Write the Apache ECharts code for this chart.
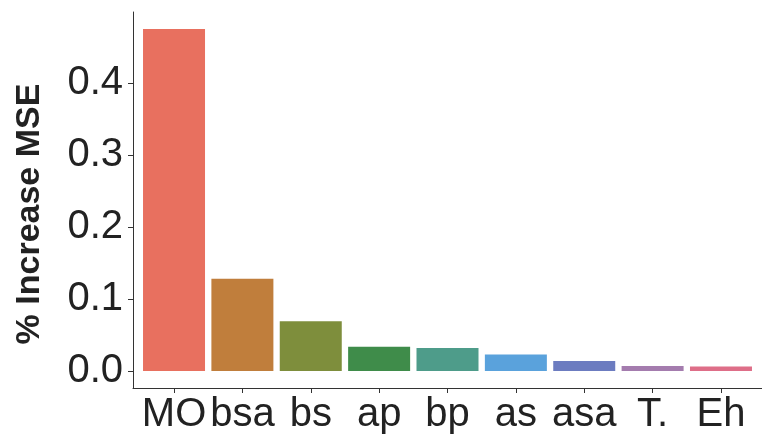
<!DOCTYPE html>
<html>
<head>
<meta charset="utf-8">
<script src="https://cdn.jsdelivr.net/npm/echarts@6/dist/echarts.min.js"></script>
<style>
  html, body { margin: 0; padding: 0; background: #fff; }
  #chart { width: 762px; height: 435px; }
</style>
</head>
<body>
<div id="chart"></div>
<script>
const categories = ["MO", "bsa", "bs", "ap", "bp", "as", "asa", "T.", "Eh"];
const values = [0.475, 0.128, 0.069, 0.0335, 0.0317, 0.0229, 0.0138, 0.0069, 0.006];
const barColors = ["#E8705F", "#C07E3C", "#7E8E3C", "#3F8C4A", "#4E9C8A", "#5AA2DC", "#6C7CC0", "#A47CAE", "#DE6E88"];
const yTicks = [0, 0.1, 0.2, 0.3, 0.4];
const xTicks = categories.map((c, i) => i + 1);

const chart = echarts.init(document.getElementById("chart"));
chart.setOption({
  animation: false,
  grid: { left: 133, right: -14, top: 12, bottom: 44, containLabel: false },
  xAxis: {
    type: "value",
    min: 0.4,
    max: 9.6,
    axisLine: { show: true, onZero: false, lineStyle: { color: "#333", width: 1 } },
    axisTick: { show: true, length: 5, customValues: xTicks, lineStyle: { color: "#333" } },
    axisLabel: {
      customValues: xTicks,
      formatter: (v) => categories[Math.round(v) - 1] || "",
      fontFamily: "Liberation Sans",
      fontSize: 40,
      color: "#222",
      margin: 7,
    },
    splitLine: { show: false },
  },
  yAxis: {
    type: "value",
    min: -0.02375,
    max: 0.49875,
    name: "% Increase MSE",
    nameLocation: "middle",
    nameGap: 86,
    nameTextStyle: {
      fontFamily: "Liberation Sans",
      fontWeight: "bold",
      fontSize: 34,
      color: "#222",
      padding: [0, 28, 0, 0],
    },
    axisLine: { show: true, lineStyle: { color: "#333", width: 1 } },
    axisTick: { show: true, length: 5, customValues: yTicks, lineStyle: { color: "#333" } },
    axisLabel: {
      customValues: yTicks,
      formatter: (v) => v.toFixed(1),
      fontFamily: "Liberation Sans",
      fontSize: 40,
      color: "#222",
      margin: 10,
    },
    splitLine: { show: false },
  },
  series: [
    {
      type: "bar",
      barWidth: 62,
      data: values.map((v, i) => ({
        value: [i + 1, v],
        itemStyle: { color: barColors[i] },
      })),
    },
  ],
});
</script>
</body>
</html>
